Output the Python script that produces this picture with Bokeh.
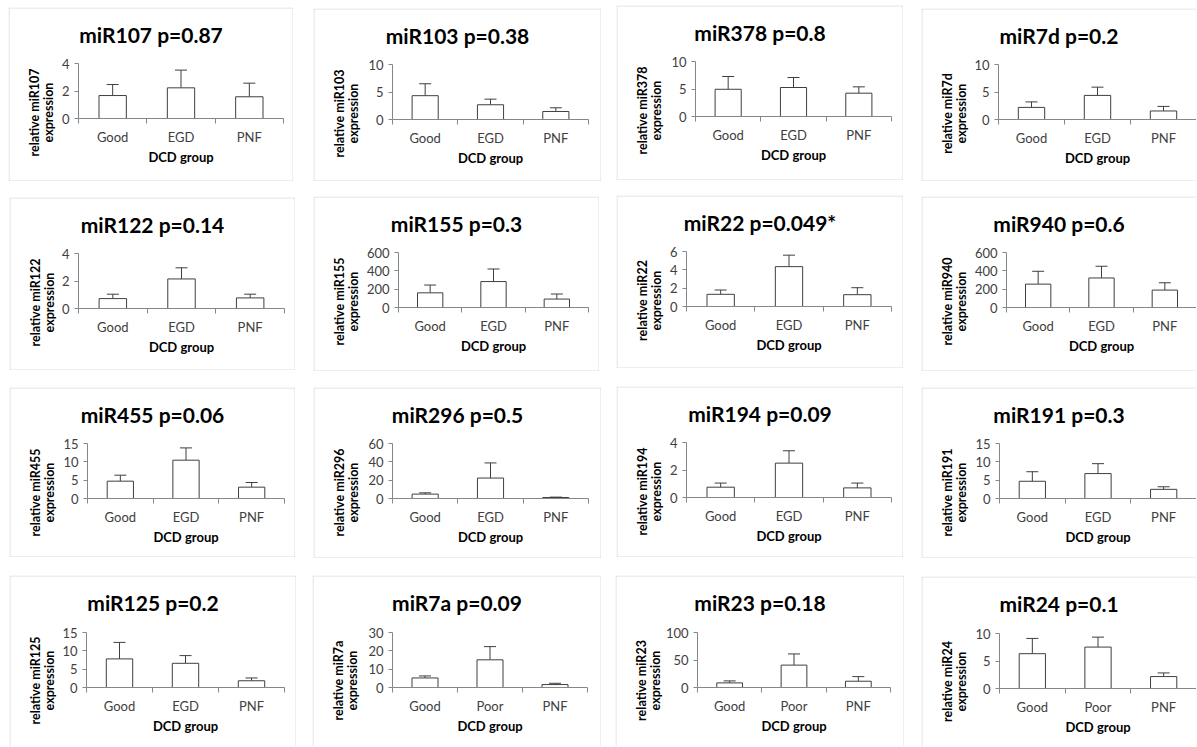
import math
from bokeh.plotting import figure
from bokeh.layouts import column, row
from bokeh.models import (Range1d, FixedTicker, Label, BoxAnnotation,
                          ColumnDataSource, Whisker, TeeHead)
from bokeh.embed import file_html
from bokeh.resources import INLINE

# ---------------- data ----------------
mirna_names = ["miR107", "miR103", "miR378", "miR7d",
               "miR122", "miR155", "miR22", "miR940",
               "miR455", "miR296", "miR194", "miR191",
               "miR125", "miR7a", "miR23", "miR24"]
p_values = ["0.87", "0.38", "0.8", "0.2",
            "0.14", "0.3", "0.049*", "0.6",
            "0.06", "0.5", "0.09", "0.3",
            "0.2", "0.09", "0.18", "0.1"]
groups_egd = ["Good", "EGD", "PNF"]
groups_poor = ["Good", "Poor", "PNF"]
panel_groups = [groups_egd] * 13 + [groups_poor] * 3

mean_expression = [
    [1.67, 2.23, 1.58], [4.33, 2.68, 1.46], [4.95, 5.27, 4.24], [2.20, 4.38, 1.55],
    [0.72, 2.15, 0.77], [160, 283, 92], [1.33, 4.35, 1.29], [255, 322, 190],
    [4.73, 10.45, 3.09], [4.8, 22.3, 1.1], [0.75, 2.5, 0.70], [4.7, 6.8, 2.5],
    [7.8, 6.6, 1.84], [5.2, 15.1, 1.6], [8.4, 40.7, 11.4], [6.33, 7.53, 2.17],
]
error_up = [
    [0.80, 1.29, 0.99], [2.17, 1.02, 0.67], [2.32, 1.82, 1.15], [1.00, 1.50, 0.83],
    [0.32, 0.81, 0.27], [85, 137, 55], [0.47, 1.25, 0.76], [140, 128, 80],
    [1.63, 3.35, 1.27], [1.4, 16.5, 0.4], [0.30, 0.90, 0.35], [2.6, 2.7, 0.7],
    [4.5, 2.1, 0.76], [1.1, 7.2, 0.7], [3.6, 20.3, 8.4], [2.77, 1.81, 0.66],
]
y_axis_max = [4, 10, 10, 10, 4, 600, 6, 600, 15, 60, 4, 15, 15, 30, 100, 10]
y_axis_step = [2, 5, 5, 5, 2, 200, 2, 200, 5, 20, 2, 5, 5, 10, 50, 5]
x_axis_title = "DCD group"

# ---------------- layout (pixels) ----------------
# panel boxes: x, y, w, h
boxes = [
    (8, 7, 285, 174), (313, 8, 288, 173), (616, 5, 287, 175), (921, 8, 275, 173),
    (9, 197, 286, 173), (313, 196, 286, 175), (616, 195, 287, 173), (921, 196, 275, 175),
    (9, 387, 286, 170), (313, 387, 288, 171), (616, 386, 287, 171), (921, 387, 275, 171),
    (9, 575, 287, 171), (312, 575, 289, 171), (615, 575, 289, 171), (921, 576, 275, 170),
]
frame_left = [70, 79, 79, 77, 69, 85, 70, 85, 78, 79, 70, 78, 77, 80, 82, 78]
frame_top = [56] * 12 + [57, 57, 57, 57]
FRAME_H = 55
FRAME_R = 275
TITLE_BASELINE = 27
row_starts = [0, 185, 375, 565, 746]

FONT = "Lato"
AXIS_GRAY = "#868686"
INK = "#3f3f3f"
LABEL_INK = "#404040"
BORDER_GRAY = "#8f8f8f"


def make_panel(i, prev_right, row_top, row_bottom):
    bx, by, bw, bh = boxes[i]
    L = frame_left[i]
    T = frame_top[i]
    groups = panel_groups[i]
    n = len(groups)
    ymax = y_axis_max[i]

    # pixel <-> data mapping so that the axes sit where the reference has them
    sx = (FRAME_R - L) / n
    sy = FRAME_H / ymax
    x_lo = -L / sx
    y_hi = ymax + T / sy

    def X(px):
        return x_lo + px / sx

    def Y(py):
        return y_hi - py / sy

    p = figure(width=bw, height=bh,
               x_range=Range1d(X(0), X(bw)), y_range=Range1d(Y(bh), Y(0)),
               output_backend="svg", toolbar_location=None, tools="",
               min_border=0, min_border_left=0, min_border_right=0,
               min_border_top=0, min_border_bottom=0,
               outline_line_color=None,
               background_fill_color="white", border_fill_color="white")
    p.margin = (by - row_top, 0, row_bottom - by - bh, bx - prev_right)
    p.xgrid.visible = False
    p.ygrid.visible = False

    centers = [k + 0.5 for k in range(n)]
    tops = mean_expression[i]
    uppers = [m + e for m, e in zip(tops, error_up[i])]
    src = ColumnDataSource(dict(x=centers, top=tops, upper=uppers))

    p.vbar(x="x", top="top", width=0.4, source=src,
           fill_color="white", line_color=INK, line_width=1)
    p.add_layout(Whisker(base="x", lower="top", upper="upper", source=src,
                         dimension="height", line_color=INK, line_width=1,
                         lower_head=None,
                         upper_head=TeeHead(size=12, line_color=INK, line_width=1)))

    # x axis
    xa = p.xaxis[0]
    xa.fixed_location = 0
    xa.bounds = (0, n)
    xa.ticker = FixedTicker(ticks=centers, minor_ticks=list(range(n + 1)))
    xa.major_label_overrides = {c: g for c, g in zip(centers, groups)}
    xa.major_tick_line_color = None
    xa.major_tick_out = 0
    xa.major_tick_in = 0
    xa.minor_tick_out = 5
    xa.minor_tick_in = 0
    xa.minor_tick_line_color = AXIS_GRAY
    xa.axis_line_color = AXIS_GRAY
    xa.major_label_text_font = FONT
    xa.major_label_text_font_size = "13px"
    xa.major_label_text_color = LABEL_INK
    xa.major_label_standoff = 5
    xa.axis_label = x_axis_title
    xa.axis_label_text_font = FONT
    xa.axis_label_text_font_size = "13px"
    xa.axis_label_text_font_style = "bold"
    xa.axis_label_text_color = "black"
    xa.axis_label_standoff = 1

    # y axis
    ya = p.yaxis[0]
    ya.fixed_location = 0
    ya.bounds = (0, ymax)
    ya.ticker = FixedTicker(ticks=list(range(0, ymax + 1, y_axis_step[i])))
    ya.major_tick_out = 4
    ya.major_tick_in = 0
    ya.major_tick_line_color = AXIS_GRAY
    ya.minor_tick_line_color = None
    ya.axis_line_color = AXIS_GRAY
    ya.major_label_text_font = FONT
    ya.major_label_text_font_size = "13px"
    ya.major_label_text_color = LABEL_INK
    ya.major_label_standoff = 5

    # title
    p.add_layout(Label(x=X(bw / 2), y=Y(TITLE_BASELINE),
                       text=f"{mirna_names[i]} p={p_values[i]}",
                       text_align="center", text_baseline="alphabetic",
                       text_font=FONT, text_font_style="bold",
                       text_font_size="21px", text_color="black"))
    # two-line y axis title
    for dx, txt in ((26, f"relative {mirna_names[i]}"), (40, "expression")):
        p.add_layout(Label(x=X(dx), y=Y(105),
                           text=txt, angle=math.pi / 2,
                           text_align="center", text_baseline="middle",
                           text_font=FONT, text_font_style="bold",
                           text_font_size="12.5px", text_color="black"))
    # panel border
    right_edge = X(bw - 0.5) if bx + bw < 1190 else X(bw + 5)
    bottom_edge = Y(bh - 0.5) if by + bh < 740 else Y(bh + 5)
    p.add_layout(BoxAnnotation(left=X(0.5), right=right_edge,
                               top=Y(0.5), bottom=bottom_edge,
                               fill_color=None, fill_alpha=0,
                               line_color=BORDER_GRAY, line_width=1))
    return p


rows = []
for r in range(4):
    prev_right = 0
    figs = []
    for c in range(4):
        i = r * 4 + c
        figs.append(make_panel(i, prev_right, row_starts[r], row_starts[r + 1]))
        prev_right = boxes[i][0] + boxes[i][2]
    rows.append(row(*figs))

layout = column(*rows)
open("out.html", "w").write(file_html(layout, INLINE))
